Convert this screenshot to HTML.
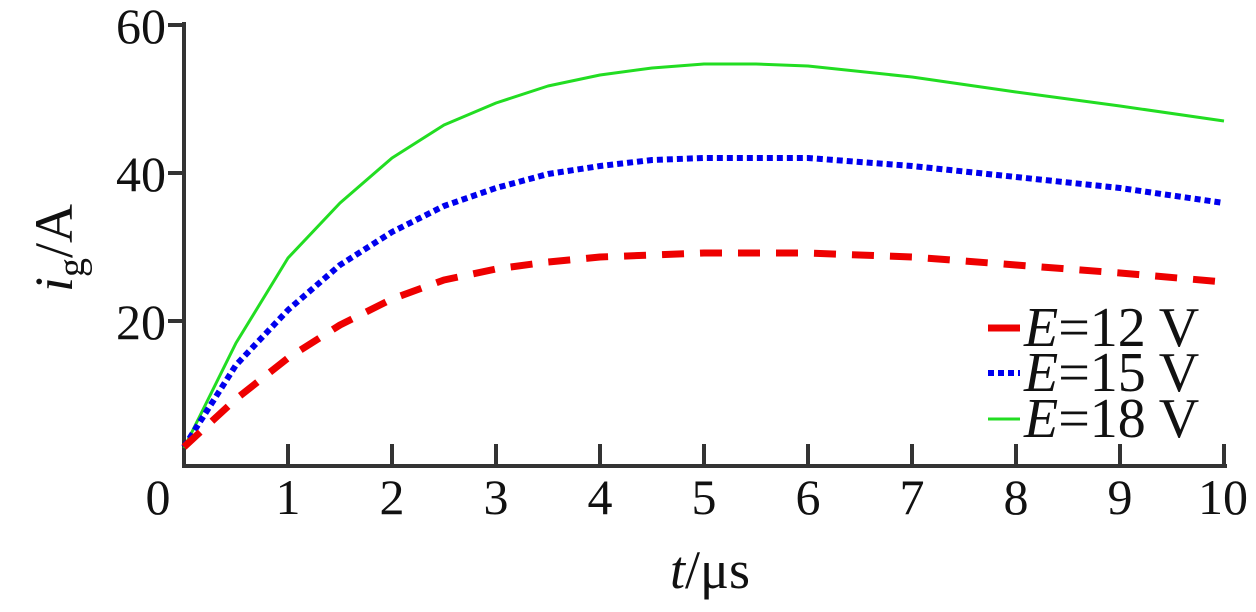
<!DOCTYPE html>
<html><head><meta charset="utf-8"><style>body{margin:0;background:#fff}svg{display:block}</style></head><body>
<svg width="1256" height="612" viewBox="0 0 1256 612" xmlns="http://www.w3.org/2000/svg" font-family="Liberation Serif, serif">
<g stroke="#333" stroke-width="4" fill="none">
<path d="M184,22 V466 H1227"/>
<path d="M168,25 H184 M168,173 H184 M168,321 H184"/>
<path d="M288,466 V444 M392,466 V444 M496,466 V444 M600,466 V444 M704,466 V444 M808,466 V444 M912,466 V444 M1016,466 V444 M1120,466 V444 M1224,466 V444"/>
</g>
<g font-size="50" fill="#111" text-anchor="end">
<text x="166" y="43">60</text><text x="166" y="191">40</text><text x="166" y="339">20</text>
</g>
<g font-size="50" fill="#111" text-anchor="middle">
<text x="158" y="514">0</text><text x="288" y="514">1</text><text x="392" y="514">2</text><text x="496" y="514">3</text><text x="600" y="514">4</text><text x="704" y="514">5</text><text x="808" y="514">6</text><text x="912" y="514">7</text><text x="1016" y="514">8</text><text x="1120" y="514">9</text><text x="1223" y="514">10</text>
</g>
<text x="710" y="588" font-size="54" text-anchor="middle" fill="#111"><tspan font-style="italic">t</tspan>/μs</text>
<text transform="translate(72,248) rotate(-90)" font-size="54" text-anchor="middle" fill="#111"><tspan font-style="italic">i</tspan><tspan font-size="38" dy="12">g</tspan><tspan dy="-12">/A</tspan></text>
<g fill="none" stroke-linejoin="round">
<polyline stroke="#22dd22" stroke-width="3" points="184,448 236,343 288,258 340,203 392,158 444,125 496,103 548,86 600,75 652,68 704,64 756,64 808,66 912,77 1016,92 1120,106 1224,121"/>
<polyline stroke="#0000ee" stroke-width="6" stroke-dasharray="6,4" points="184,447 236,365 288,310 340,265 392,232 444,206 496,188 548,174 600,166 652,160 704,158 808,158 912,166 1016,177 1120,188 1224,203"/>
<polyline stroke="#ee0000" stroke-width="7" stroke-dasharray="22,16" points="184,447 236,399 288,358 340,325 392,299 444,280 496,269 548,262 600,257 704,253 808,253 912,257 1016,265 1120,273 1224,282"/>
</g>
<g font-size="56" fill="#111">
<line x1="988" y1="328" x2="1020" y2="328" stroke="#ee0000" stroke-width="7"/>
<text x="1024" y="346"><tspan font-style="italic">E</tspan>=12 V</text>
<line x1="988" y1="373" x2="1020" y2="373" stroke="#0000ee" stroke-width="6" stroke-dasharray="6,4"/>
<text x="1024" y="391"><tspan font-style="italic">E</tspan>=15 V</text>
<line x1="988" y1="419" x2="1020" y2="419" stroke="#22dd22" stroke-width="3"/>
<text x="1024" y="437"><tspan font-style="italic">E</tspan>=18 V</text>
</g>
</svg>
</body></html>
